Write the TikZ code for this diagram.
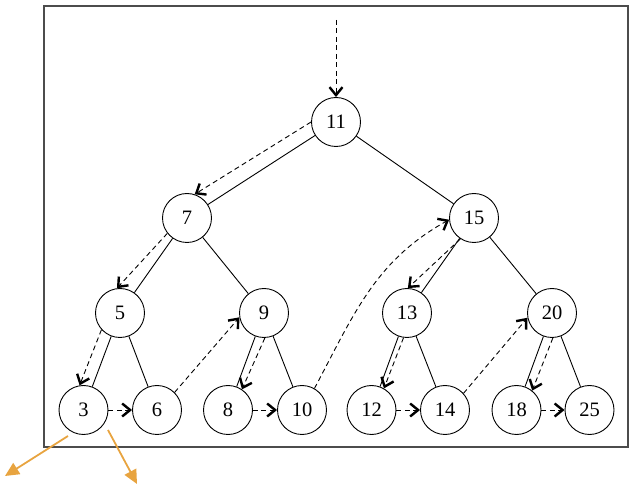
\documentclass[tikz,border=0pt]{standalone}
\usepackage{fontspec}
\setmainfont{Liberation Serif}
\usetikzlibrary{arrows.meta}
\definecolor{orangeArr}{RGB}{232,164,64}
\tikzset{
  tnode/.style={circle,draw,line width=0.9pt,minimum size=49pt,inner sep=0pt,font=\fontsize{20.5}{22}\selectfont},
  edge/.style={line width=0.9pt},
  trav/.style={line width=0.9pt,dash pattern=on 5pt off 3.5pt,-{Straight Barb[length=8pt,width=13pt,line width=2.4pt]}},
  outarr/.style={orangeArr,line width=1.8pt,-{Triangle[length=14pt,width=13pt]}},
  frame/.style={draw=black!70,line width=1.3pt}
}
\begin{document}
\begin{tikzpicture}[x=1pt,y=-1pt]
\useasboundingbox (0,0) rectangle (633,489);
\draw[frame] (44,6) rectangle (628,447);
% nodes
\node[tnode] (n11) at (336,122) {11};
\node[tnode] (n7) at (187,218) {7};
\node[tnode] (n15) at (474,218) {15};
\node[tnode] (n5) at (120,313) {5};
\node[tnode] (n9) at (264,313) {9};
\node[tnode] (n13) at (407,313) {13};
\node[tnode] (n20) at (552,313) {20};
\node[tnode] (n3) at (83.5,410) {3};
\node[tnode] (n6) at (157,410) {6};
\node[tnode] (n8) at (228,410) {8};
\node[tnode] (n10) at (302,410) {10};
\node[tnode] (n12) at (371.5,410) {12};
\node[tnode] (n14) at (445,410) {14};
\node[tnode] (n18) at (516.5,410) {18};
\node[tnode] (n25) at (589.5,410) {25};
% tree edges
\draw[edge] (n11) -- (n7);
\draw[edge] (n11) -- (n15);
\draw[edge] (n7) -- (n5);
\draw[edge] (n7) -- (n9);
\draw[edge] (n15) -- (n13);
\draw[edge] (n15) -- (n20);
\draw[edge] (n5) -- (n3);
\draw[edge] (n5) -- (n6);
\draw[edge] (n9) -- (n8);
\draw[edge] (n9) -- (n10);
\draw[edge] (n13) -- (n12);
\draw[edge] (n13) -- (n14);
\draw[edge] (n20) -- (n18);
\draw[edge] (n20) -- (n25);
% traversal
\coordinate (start) at (336,20);
\draw[trav] (start) -- (n11.north);
\draw[trav] (n11.180) -- (n7.72);
\draw[trav] (n7.218) -- (n5.97);
\draw[trav] (n5.222) -- (n3.99);
\draw[trav] (n3.east) -- (n6.west);
\draw[trav] (n6.45) -- (n9.190);
\draw[trav] (n9.272) -- (n8.56);
\draw[trav] (n8.east) -- (n10.west);
\draw[trav] (n10.60) to[out=62,in=209] (n15.184);
\draw[trav] (n15.237) -- (n13.88);
\draw[trav] (n13.262) -- (n12.60);
\draw[trav] (n12.east) -- (n14.west);
\draw[trav] (n14.42) -- (n20.191);
\draw[trav] (n20.272) -- (n18.51);
\draw[trav] (n18.east) -- (n25.west);
% orange arrows
\coordinate (o1s) at (68,436);
\coordinate (o1e) at (5,476);
\coordinate (o2s) at (108,430);
\coordinate (o2e) at (137,484);
\draw[outarr] (o1s) -- (o1e);
\draw[outarr] (o2s) -- (o2e);
\end{tikzpicture}
\end{document}
